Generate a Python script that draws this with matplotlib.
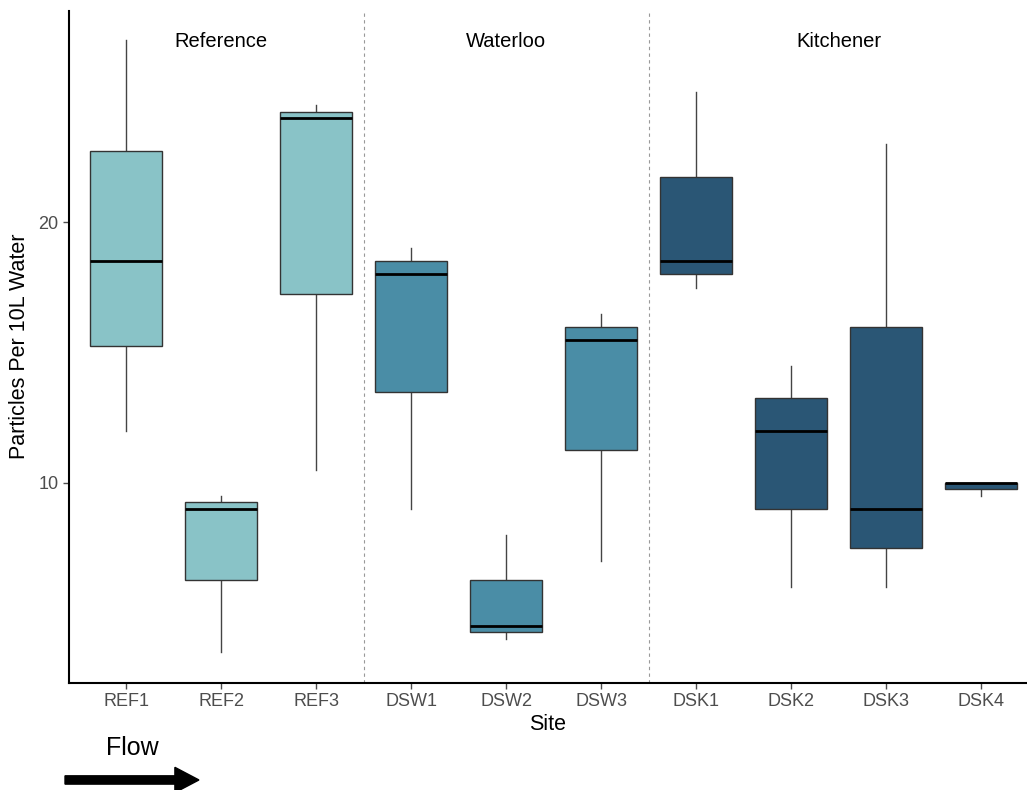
import matplotlib
matplotlib.use("Agg")
import matplotlib.pyplot as plt
from matplotlib.patches import FancyArrow

plt.rcParams["font.family"] = ["Liberation Sans", "DejaVu Sans"]

# Data
sites = ["REF1", "REF2", "REF3", "DSW1", "DSW2", "DSW3", "DSK1", "DSK2", "DSK3", "DSK4"]
groups = ["Reference", "Reference", "Reference", "Waterloo", "Waterloo", "Waterloo",
          "Kitchener", "Kitchener", "Kitchener", "Kitchener"]
whis_lo = [12.0, 3.5, 10.5, 9.0, 4.0, 7.0, 17.5, 6.0, 6.0, 9.5]
q1 = [15.25, 6.25, 17.25, 13.5, 4.25, 11.25, 18.0, 9.0, 7.5, 9.75]
median = [18.5, 9.0, 24.0, 18.0, 4.5, 15.5, 18.5, 12.0, 9.0, 10.0]
q3 = [22.75, 9.25, 24.25, 18.5, 6.25, 16.0, 21.75, 13.25, 16.0, 10.0]
whis_hi = [27.0, 9.5, 24.5, 19.0, 8.0, 16.5, 25.0, 14.5, 23.0, 10.0]

group_names = ["Reference", "Waterloo", "Kitchener"]
group_colors = {"Reference": "#89c3c7", "Waterloo": "#4a8da6", "Kitchener": "#2a5675"}

fig = plt.figure(figsize=(10.27, 7.9), dpi=100)
ax = fig.add_axes([0.0672, 0.1358, 0.9328, 0.8506])

stats = []
for i, s in enumerate(sites):
    stats.append(dict(label=s, med=median[i], q1=q1[i], q3=q3[i],
                      whislo=whis_lo[i], whishi=whis_hi[i], fliers=[]))

positions = list(range(1, len(sites) + 1))
bp = ax.bxp(stats, positions=positions, widths=0.76, patch_artist=True,
            showcaps=False, showfliers=False,
            boxprops=dict(edgecolor="#333333", linewidth=1.0),
            whiskerprops=dict(color="#444444", linewidth=1.0),
            medianprops=dict(color="black", linewidth=2.0))
for patch, g in zip(bp["boxes"], groups):
    patch.set_facecolor(group_colors[g])
for ln in bp["whiskers"]:
    ln.set_zorder(1)

# group separators and labels
ax.axvline(3.5, color="#999999", linestyle=(0, (3, 3)), linewidth=0.8)
ax.axvline(6.5, color="#999999", linestyle=(0, (3, 3)), linewidth=0.8)
for g in group_names:
    idx = [p for p, gg in zip(positions, groups) if gg == g]
    ax.text(sum(idx) / len(idx), 26.95, g, ha="center", va="center", fontsize=14.5)

ax.set_xlim(0.4, 10.48)
ax.set_ylim(2.32, 28.13)
ax.set_yticks([10, 20])
ax.set_xticks(positions)
ax.set_xticklabels(sites)
ax.tick_params(axis="both", colors="#4d4d4d", labelsize=13, length=4, width=1)
for side in ["top", "right"]:
    ax.spines[side].set_visible(False)
for side in ["left", "bottom"]:
    ax.spines[side].set_linewidth(1.5)
    ax.spines[side].set_color("black")
ax.set_xlabel("Site", fontsize=15.5, labelpad=3)
ax.set_ylabel("Particles Per 10L Water", fontsize=15.5, labelpad=6)

# flow arrow below the axes
fig.text(0.129, 0.053, "Flow", fontsize=18, ha="center", va="center")
fig.patches.append(FancyArrow(0.0633, 0.0127, 0.107, 0.0, width=0.0105, head_width=0.032,
                              head_length=0.0234, length_includes_head=False,
                              color="black", transform=fig.transFigure, figure=fig))

fig.savefig("out.png", dpi=100)
